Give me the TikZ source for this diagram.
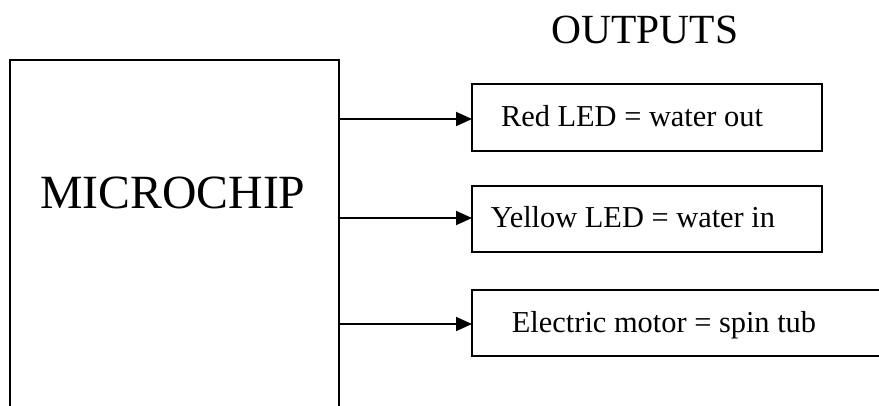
\documentclass[tikz,border=0pt]{standalone}
\usepackage{fontspec}
\setmainfont{Liberation Serif}
\usetikzlibrary{arrows.meta}
\begin{document}
\begin{tikzpicture}[x=1pt,y=-1pt,
  box/.style={draw, rectangle, inner sep=0pt, outer sep=0pt, line width=1.7pt, anchor=north west},
  conn/.style={-{Triangle[length=16pt,width=14pt]}, line width=1.9pt},
  lbl/.style={anchor=base, inner sep=0pt, font=\fontsize{30.4}{36}\selectfont}]
\clip (0,0) rectangle (879,405);
\node[box, minimum width=329pt, minimum height=380pt] (chip) at (10,60) {};
\node[anchor=base, inner sep=0pt, font=\fontsize{47.7}{56}\selectfont] (chiplbl) at (173,208) {MICROCHIP};
\node[anchor=base, inner sep=0pt, font=\fontsize{41.5}{50}\selectfont] (outlbl) at (645,43) {OUTPUTS};
\node[box, minimum width=350pt, minimum height=67pt] (box1) at (472,84) {};
\node[box, minimum width=350pt, minimum height=66pt] (box2) at (472,186) {};
\node[box, minimum width=420pt, minimum height=66pt] (box3) at (472,290) {};
\node[lbl] (t1) at (632,126) {Red LED = water out};
\node[lbl] (t2) at (633,227) {Yellow LED = water in};
\node[lbl] (t3) at (664,332) {Electric motor = spin tub};
\coordinate (e1) at ([yshift=-1.5pt]box1.west);
\coordinate (e2) at ([yshift=1pt]box2.west);
\coordinate (e3) at ([yshift=-1pt]box3.west);
\draw[conn] (chip.east |- e1) -- (e1);
\draw[conn] (chip.east |- e2) -- (e2);
\draw[conn] (chip.east |- e3) -- (e3);
\end{tikzpicture}
\end{document}
